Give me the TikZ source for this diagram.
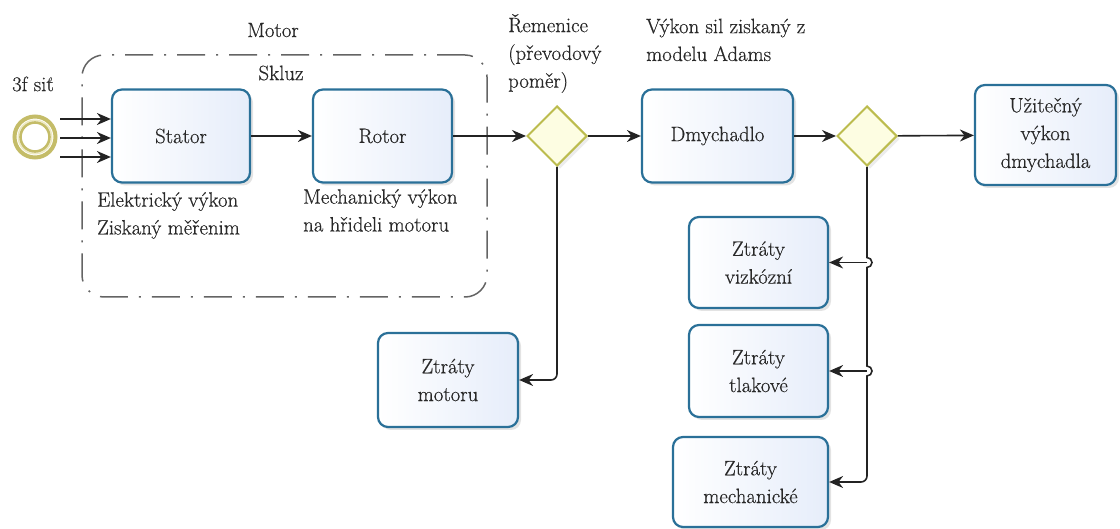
\documentclass[tikz,border=0pt]{standalone}
\usepackage{fontspec}
\newfontfamily\diagfont{Latin Modern Roman}[FakeBold=0.5]
\usetikzlibrary{arrows.meta,shapes.geometric,shadows}
\definecolor{boxborder}{RGB}{42,112,152}
\definecolor{boxfillr}{RGB}{230,237,250}
\definecolor{diaborder}{RGB}{188,188,78}
\definecolor{diafill}{RGB}{253,253,226}
\definecolor{ringc}{RGB}{196,188,104}
\definecolor{ringlight}{RGB}{238,234,196}
\definecolor{grpc}{RGB}{100,100,100}
\definecolor{linec}{RGB}{35,35,35}
\definecolor{textc}{RGB}{40,40,40}
\tikzset{
  every node/.style={font=\diagfont\fontsize{20.8}{27.8}\selectfont, text=textc},
  procbox/.style={draw=boxborder, line width=2.2pt, rounded corners=10pt,
    left color=white, right color=boxfillr, align=center, inner sep=0pt,
    drop shadow={opacity=0.22, shadow xshift=3pt, shadow yshift=-3pt}},
  gate/.style={diamond, draw=diaborder, line width=2pt, fill=diafill, inner sep=0pt,
    minimum width=60pt, minimum height=60pt,
    drop shadow={opacity=0.15, shadow xshift=3pt, shadow yshift=-3pt}},
  lbl/.style={align=left, inner sep=0pt},
  conn/.style={draw=linec, line width=1.6pt},
  arr/.style={conn, -{Stealth[length=14pt,width=12pt]}},
  grpline/.style={draw=grpc, line width=1.5pt, rounded corners=22pt,
    dash pattern=on 28pt off 11pt on 2pt off 11pt}
}
\begin{document}
\begin{tikzpicture}[x=1pt,y=-1pt]
\useasboundingbox (0,0) rectangle (1120,529);
% group
\node[grpline, minimum width=405pt, minimum height=242pt, inner sep=0pt] (motorgrp) at (284.5,176) {};
\node (motorlbl) at (273,30) {Motor};
\node (skluz) at (281,73) {Skluz};
% start event
\node[circle, draw=ringc, line width=4pt, fill=white, minimum size=41pt, inner sep=0pt] (start) at (35,137) {};
\draw[draw=ringlight, line width=1.4pt] (start.center) circle[radius=16.8];
\draw[draw=ringc, line width=2.6pt] (start.center) circle[radius=14.5];
\node[anchor=west, inner sep=0pt] (sit) at (12,84) {3f siť};
% boxes
\node[procbox, minimum width=138pt, minimum height=93pt] (stator) at (181,136) {Stator};
\node[procbox, minimum width=139pt, minimum height=93pt] (rotor) at (382.5,136) {Rotor};
\node[gate] (d1) at (557,136) {};
\node[procbox, minimum width=151pt, minimum height=93pt] (dmych) at (717.5,136) {Dmychadlo};
\node[gate] (d2) at (867,136) {};
\node[procbox, minimum width=141pt, minimum height=100pt] (uzit) at (1045.5,135) {Užitečný\\výkon\\dmychadla};
\node[procbox, minimum width=140pt, minimum height=94pt] (zm) at (448,380) {Ztráty\\motoru};
\node[procbox, minimum width=139pt, minimum height=91pt] (visc) at (758.5,262.5) {Ztráty\\vizkózní};
\node[procbox, minimum width=139pt, minimum height=92pt] (tlak) at (758.5,371) {Ztráty\\tlakové};
\node[procbox, minimum width=155pt, minimum height=90pt] (mech) at (750.5,482) {Ztráty\\mechanické};
% labels
\node[lbl, anchor=north west] (elabel) at (97,192) {Elektrický výkon\\Ziskaný měřenim};
\node[lbl, anchor=north west] (mlabel) at (303,189) {Mechanický výkon\\na hřideli motoru};
\node[lbl, anchor=north west] (remlabel) at (508,14) {Řemenice\\(převodový\\poměr)};
\node[lbl, anchor=north west] (adlabel) at (646,18.5) {Výkon sil ziskaný z\\modelu Adams};
% connectors
\draw[arr] ([shift={(25,-18)}]start.center) -- ([yshift=17pt]stator.west);
\draw[arr] ([shift={(25,1)}]start.center) -- ([yshift=-2pt]stator.west);
\draw[arr] ([shift={(25,20)}]start.center) -- ([yshift=-21pt]stator.west);
\draw[arr] (stator) -- (rotor);
\draw[arr] (rotor) -- (d1);
\draw[arr] (d1) -- (dmych);
\draw[arr] (dmych) -- (d2);
\draw[arr] (d2) -- (uzit);
\draw[arr, rounded corners=6pt] (d1.south) |- (zm.east);
\coordinate (j1a) at (867,257.5);
\coordinate (j2a) at (867,366);
\coordinate (j3) at (867,460);
\coordinate (j1) at (867,262.5);
\coordinate (j2) at (867,371);
\draw[conn] (d2.south) -- (j1a) arc[start angle=-90, end angle=90, radius=5] -- (j2a) arc[start angle=-90, end angle=90, radius=5] -- (j3);
\draw[arr, rounded corners=6pt] (j3) |- (mech.east);
\draw[arr] (j1) -- (visc.east);
\draw[arr] (j2) -- (tlak.east);
\end{tikzpicture}
\end{document}
